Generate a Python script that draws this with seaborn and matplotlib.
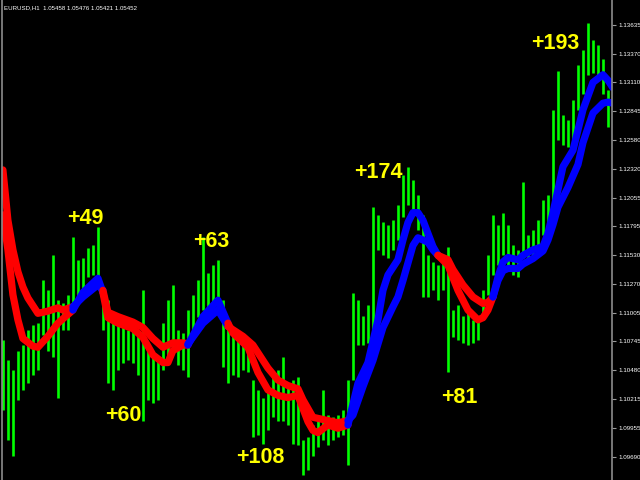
import matplotlib
matplotlib.use('Agg')
import matplotlib.pyplot as plt
import seaborn as sns
import numpy as np
import pandas as pd

# EURUSD H1 bars, one entry per bar
highs = [1.1076, 1.1057, 1.1048, 1.1066, 1.1071, 1.1085, 1.1089, 1.1091, 1.1130, 1.1121,
         1.1153, 1.1112, 1.1109, 1.1117, 1.1170, 1.1149, 1.1151, 1.1160, 1.1162, 1.1179,
         1.1124, 1.1112, 1.1091, 1.1089, 1.1091, 1.1085, 1.1091, 1.1080, 1.1121, 1.1066,
         1.1062, 1.1057, 1.1091, 1.1112, 1.1126, 1.1085, 1.1082, 1.1103, 1.1117, 1.1130,
         1.1170, 1.1137, 1.1144, 1.1149, 1.1112, 1.1094, 1.1080, 1.1076, 1.1073, 1.1071,
         1.1039, 1.1030, 1.1023, 1.1030, 1.1044, 1.1048, 1.1060, 1.1034, 1.1039, 1.1042,
         1.0984, 1.0987, 1.0998, 1.1002, 1.1030, 1.1007, 1.1005, 1.1007, 1.1012, 1.1039,
         1.1119, 1.1112, 1.1098, 1.1108, 1.1197, 1.1190, 1.1183, 1.1181, 1.1185, 1.1199,
         1.1226, 1.1234, 1.1222, 1.1208, 1.1190, 1.1153, 1.1147, 1.1144, 1.1147, 1.1161,
         1.1103, 1.1108, 1.1098, 1.1103, 1.1094, 1.1098, 1.1121, 1.1153, 1.1190, 1.1181,
         1.1192, 1.1181, 1.1162, 1.1158, 1.1220, 1.1172, 1.1176, 1.1185, 1.1204, 1.1208,
         1.1286, 1.1321, 1.1281, 1.1277, 1.1295, 1.1327, 1.1341, 1.1365, 1.1350, 1.1345,
         1.1332, 1.1304]
lows = [1.1012, 1.0984, 1.0970, 1.1021, 1.1030, 1.1036, 1.1044, 1.1048, 1.1080, 1.1066,
        1.1060, 1.1023, 1.1085, 1.1085, 1.1109, 1.1112, 1.1121, 1.1133, 1.1135, 1.1133,
        1.1085, 1.1036, 1.1030, 1.1048, 1.1055, 1.1057, 1.1055, 1.1044, 1.1002, 1.1021,
        1.1018, 1.1021, 1.1048, 1.1060, 1.1066, 1.1053, 1.1048, 1.1042, 1.1085, 1.1097,
        1.1103, 1.1103, 1.1108, 1.1115, 1.1051, 1.1036, 1.1044, 1.1042, 1.1048, 1.1046,
        1.0987, 1.0989, 1.0981, 1.0993, 1.1005, 1.1002, 1.1002, 1.0998, 1.0981, 1.0980,
        1.0952, 1.0957, 1.0970, 1.0978, 1.0984, 1.0980, 1.0984, 1.0987, 1.0989, 1.0961,
        1.1039, 1.1071, 1.1071, 1.1073, 1.1085, 1.1158, 1.1153, 1.1151, 1.1158, 1.1167,
        1.1188, 1.1199, 1.1190, 1.1176, 1.1115, 1.1115, 1.1121, 1.1112, 1.1121, 1.1046,
        1.1078, 1.1076, 1.1073, 1.1071, 1.1073, 1.1076, 1.1094, 1.1117, 1.1135, 1.1144,
        1.1153, 1.1140, 1.1135, 1.1133, 1.1151, 1.1150, 1.1153, 1.1162, 1.1172, 1.1176,
        1.1194, 1.1258, 1.1254, 1.1252, 1.1258, 1.1286, 1.1300, 1.1318, 1.1320, 1.1318,
        1.1300, 1.1270]

# fast / slow trend lines of the indicator (bar index, price)
fast_bars = [0, 1, 2, 3, 4, 6, 7, 9, 11, 14, 16, 19, 20, 21, 23, 26, 28, 30, 32, 33,
             34, 36, 37, 40, 43, 45, 46, 49, 51, 53, 55, 57, 59, 61, 62, 63, 65, 67, 69, 71,
             73, 75, 76, 77, 79, 80, 81, 82, 83, 84, 85, 86, 87, 89, 91, 93, 95, 96, 97, 98,
             99, 100, 101, 102, 103, 104, 106, 108, 109, 110, 112, 114, 116, 118, 120, 121, 122]
fast_vals = [1.1190, 1.1158, 1.1117, 1.1094, 1.1077, 1.1070, 1.1069, 1.1079, 1.1091, 1.1103,
             1.1119, 1.1132, 1.1119, 1.1096, 1.1091, 1.1086, 1.1078, 1.1062, 1.1055, 1.1055,
             1.1066, 1.1071, 1.1071, 1.1097, 1.1112, 1.1091, 1.1082, 1.1069, 1.1046, 1.1030,
             1.1025, 1.1023, 1.1025, 1.1001, 1.0993, 1.0991, 1.0998, 1.0995, 1.0998, 1.1036,
             1.1055, 1.1094, 1.1121, 1.1135, 1.1149, 1.1167, 1.1183, 1.1192, 1.1192, 1.1185,
             1.1173, 1.1161, 1.1153, 1.1144, 1.1121, 1.1103, 1.1094, 1.1096, 1.1103, 1.1115,
             1.1133, 1.1147, 1.1151, 1.1150, 1.1149, 1.1153, 1.1158, 1.1161, 1.1173, 1.1192,
             1.1234, 1.1249, 1.1286, 1.1311, 1.1318, 1.1313, 1.1306]
slow_bars = [0, 1, 2, 3, 4, 5, 7, 9, 11, 12, 14, 16, 19, 20, 21, 23, 26, 28, 30, 32,
             34, 36, 37, 40, 43, 45, 46, 48, 50, 51, 53, 55, 57, 59, 60, 62, 65, 67, 69, 70,
             72, 74, 76, 78, 79, 80, 82, 83, 85, 86, 87, 89, 90, 92, 94, 96, 97, 98, 99, 100,
             101, 103, 104, 106, 108, 109, 110, 111, 112, 113, 115, 116, 118, 120, 121, 122]
slow_vals = [1.1231, 1.1185, 1.1158, 1.1138, 1.1124, 1.1114, 1.1100, 1.1102, 1.1105, 1.1103,
             1.1106, 1.1115, 1.1126, 1.1121, 1.1101, 1.1097, 1.1092, 1.1087, 1.1077, 1.1069,
             1.1073, 1.1073, 1.1072, 1.1091, 1.1103, 1.1088, 1.1085, 1.1079, 1.1071, 1.1064,
             1.1050, 1.1039, 1.1034, 1.1031, 1.1021, 1.1005, 1.1002, 1.1000, 1.1002, 1.1007,
             1.1033, 1.1057, 1.1087, 1.1106, 1.1115, 1.1130, 1.1162, 1.1169, 1.1165, 1.1158,
             1.1153, 1.1149, 1.1140, 1.1126, 1.1115, 1.1109, 1.1110, 1.1115, 1.1130, 1.1139,
             1.1141, 1.1141, 1.1145, 1.1150, 1.1157, 1.1167, 1.1181, 1.1197, 1.1206, 1.1215,
             1.1236, 1.1256, 1.1283, 1.1292, 1.1293, 1.1292]

# trend switches (bar index) and direction of each leg
trend_breaks = [0, 14, 20, 37, 45, 69, 87, 98, 122]
trend_dirs = ['down', 'up', 'down', 'up', 'down', 'up', 'down', 'up']

# profit labels in pips
pip_labels = ['+49', '+60', '+63', '+108', '+174', '+81', '+193']
label_bars = [16.4, 24.0, 41.6, 51.4, 75.0, 91.2, 110.4]
label_prices = [1.1187, 1.1007, 1.1166, 1.0968, 1.1229, 1.1023, 1.1347]

ytick_vals = [1.13635, 1.13370, 1.13110, 1.12845, 1.12580, 1.12320, 1.12055, 1.11795,
              1.11530, 1.11270, 1.11005, 1.10745, 1.10480, 1.10215, 1.09955, 1.09690]

header = 'EURUSD,H1  1.05458 1.05476 1.05421 1.05452'

sns.set_theme(style='dark', rc={'axes.facecolor': 'black', 'figure.facecolor': 'black'})
plt.rcParams['font.family'] = ['Liberation Sans', 'DejaVu Sans']

fig = plt.figure(figsize=(6.4, 4.8), dpi=100)
ax = fig.add_axes([0.003, 0.0, 0.954, 1.0])
ax.set_facecolor('black')

bars = pd.DataFrame({'bar': np.arange(len(highs)), 'high': highs, 'low': lows})
ax.vlines(bars['bar'], bars['low'], bars['high'], color='#00ff00', lw=1.9)

fast = pd.DataFrame({'bar': fast_bars, 'price': fast_vals})
slow = pd.DataFrame({'bar': slow_bars, 'price': slow_vals})
colors = {'down': '#ff0000', 'up': '#0000ff'}
for k, d in enumerate(trend_dirs):
    a, b = trend_breaks[k], trend_breaks[k + 1]
    for line in (slow, fast):
        seg = line[(line['bar'] >= a) & (line['bar'] <= b)]
        sns.lineplot(data=seg, x='bar', y='price', ax=ax, color=colors[d], lw=5.2,
                     solid_capstyle='round', solid_joinstyle='round', sort=False)

for t, xb, yp in zip(pip_labels, label_bars, label_prices):
    ax.text(xb, yp, t, color='#ffff00', fontsize=15.5, fontweight='bold',
            ha='center', va='center')

ax.text(0.004, 0.983, header, transform=ax.transAxes, color='white', fontsize=4.4,
        ha='left', va='center')

ax.set_xlim(-0.2, 121.9)
ax.set_ylim(1.09477, 1.13863)
ax.set_xlabel('')
ax.set_ylabel('')
ax.set_xticks([])
ax.yaxis.tick_right()
ax.set_yticks(ytick_vals)
ax.set_yticklabels([f'{v:.5f}' for v in ytick_vals])
ax.tick_params(axis='y', colors='#9a9a9a', labelcolor='white', labelsize=4.5,
               length=3, width=0.8, pad=1.0, right=True)
ax.grid(False)
for side in ['top', 'bottom']:
    ax.spines[side].set_visible(False)
for side in ['left', 'right']:
    ax.spines[side].set_visible(True)
    ax.spines[side].set_color('#8c8c8c')
    ax.spines[side].set_linewidth(1.2)

fig.savefig('out.png', dpi=100, facecolor='black')
